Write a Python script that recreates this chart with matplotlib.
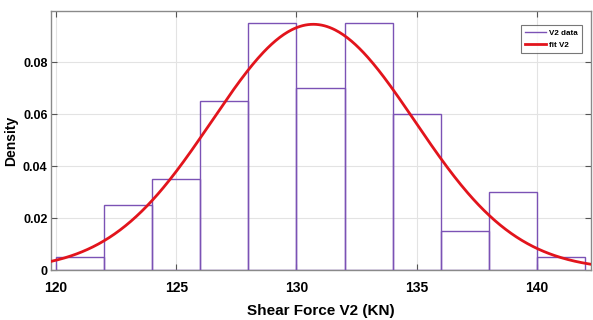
import matplotlib
matplotlib.use("Agg")
import matplotlib.pyplot as plt
from matplotlib.lines import Line2D
import numpy as np

# ================== DATA ==================

bin_edges = [120, 122, 124, 126, 128, 130, 132, 134, 136, 138, 140, 142]
density = [0.005, 0.025, 0.035, 0.065, 0.095, 0.07, 0.095, 0.06, 0.015, 0.03, 0.005]

# normal fit parameters
fit_mu = 130.7
fit_sigma = 4.22

x_ticks = [120, 125, 130, 135, 140]
y_ticks = [0, 0.02, 0.04, 0.06, 0.08]
y_tick_labels = ["0", "0.02", "0.04", "0.06", "0.08"]

# ================== STYLE ==================

plt.rcParams["font.family"] = ["Liberation Sans", "DejaVu Sans"]

purple = "#7b52b5"
red = "#e2141c"

fig = plt.figure(figsize=(5.93, 3.2), dpi=100)
ax = fig.add_axes([0.086, 0.156, 0.9106, 0.81])

# histogram outline
widths = np.diff(bin_edges)
ax.bar(bin_edges[:-1], density, width=widths, align="edge", fill=False,
       edgecolor=purple, linewidth=1.0, zorder=3)

# fitted pdf
xs = np.linspace(119.79, 142.25, 400)
pdf = np.exp(-0.5 * ((xs - fit_mu) / fit_sigma) ** 2) / (fit_sigma * np.sqrt(2 * np.pi))
ax.plot(xs, pdf, color=red, linewidth=2.0, zorder=4)

ax.set_xlim(119.79, 142.25)
ax.set_ylim(0, 0.0997)
ax.set_xticks(x_ticks)
ax.set_yticks(y_ticks)
ax.set_yticklabels(y_tick_labels)

ax.grid(True, color="#e3e3e3", linewidth=0.8, zorder=0)
ax.set_axisbelow(True)
ax.tick_params(direction="in", top=True, right=True, length=4, width=0.8,
               color="#555555")
ax.tick_params(axis="x", labelsize=10, pad=8)
ax.tick_params(axis="y", labelsize=9, pad=2.5)
for lbl in ax.get_xticklabels() + ax.get_yticklabels():
    lbl.set_fontweight("bold")
for sp in ax.spines.values():
    sp.set_color("#8a8a8a")
    sp.set_linewidth(1.0)

ax.set_xlabel("Shear Force V2 (KN)", fontsize=11, fontweight="bold")
ax.xaxis.set_label_coords(0.5, -0.13)
ax.set_ylabel("Density", fontsize=10, fontweight="bold")
ax.yaxis.set_label_coords(-0.06, 0.5)

handles = [Line2D([], [], color=purple, linewidth=1.0),
           Line2D([], [], color=red, linewidth=2.0)]
leg = ax.legend(handles, ["V2 data", "fit V2"], loc="upper right", fontsize=5.8,
                frameon=True, fancybox=False, handlelength=2.6, handletextpad=0.3,
                borderpad=0.5, labelspacing=0.5, bbox_to_anchor=(0.99, 0.96))
leg.get_frame().set_edgecolor("#555555")
leg.get_frame().set_linewidth(0.8)
for t in leg.get_texts():
    t.set_fontweight("bold")

fig.savefig("out.png", dpi=100)
